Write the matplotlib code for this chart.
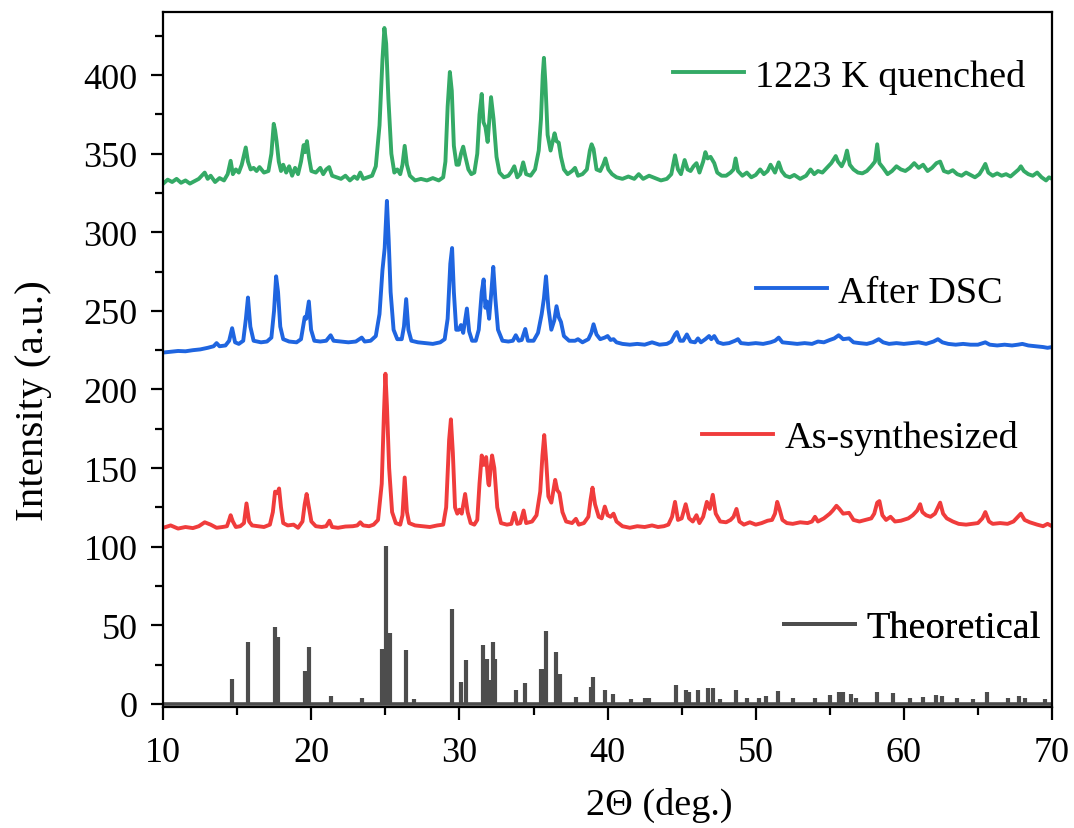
import matplotlib
matplotlib.use('Agg')
import matplotlib.pyplot as plt
from matplotlib.lines import Line2D
from matplotlib.ticker import MultipleLocator

# XRD patterns (2-theta in deg, intensity in a.u., already offset)
quenched_pts = [
    (10.0, 331), (10.3, 333.5), (10.6, 332), (10.9, 334), (11.2, 331.5), (11.5, 333), (11.8, 331),
    (12.1, 332.5), (12.4, 334), (12.6, 336), (12.8, 338), (13.0, 334), (13.2, 336), (13.5, 332),
    (13.8, 334.5), (14.1, 333), (14.35, 337), (14.55, 345.5), (14.7, 337), (14.9, 340), (15.1, 338),
    (15.3, 343), (15.45, 349), (15.57, 354), (15.72, 345), (15.9, 340), (16.1, 341), (16.3, 339),
    (16.5, 341.5), (16.8, 338), (17.1, 339), (17.3, 350), (17.46, 369), (17.55, 365), (17.65, 358),
    (17.8, 345), (17.95, 339), (18.1, 343), (18.3, 338), (18.5, 342), (18.7, 336), (18.9, 341),
    (19.1, 337), (19.3, 345), (19.48, 355.5), (19.58, 351), (19.7, 358), (19.85, 347), (20.0, 339),
    (20.3, 338), (20.6, 341), (20.8, 337), (21.0, 340), (21.2, 341.5), (21.4, 336), (21.7, 335),
    (22.0, 334), (22.3, 336), (22.6, 333), (22.9, 335.5), (23.1, 334), (23.3, 338), (23.5, 334),
    (23.8, 335), (24.1, 336), (24.35, 342), (24.6, 368), (24.8, 410), (24.93, 430), (25.05, 420),
    (25.2, 385), (25.4, 350), (25.6, 338), (25.8, 340), (26.0, 337), (26.15, 343), (26.3, 355),
    (26.45, 343), (26.65, 336), (27.0, 333), (27.4, 334), (27.8, 333), (28.2, 334.5), (28.6, 333),
    (28.9, 335), (29.05, 345), (29.2, 380), (29.35, 402), (29.48, 390), (29.62, 355), (29.8, 343),
    (29.95, 343), (30.1, 350), (30.25, 354.5), (30.4, 348), (30.6, 340), (30.8, 337), (31.0, 338),
    (31.2, 350), (31.35, 375), (31.5, 388), (31.62, 370), (31.75, 367), (31.9, 357.5), (32.0, 370),
    (32.13, 386), (32.3, 372), (32.5, 348), (32.7, 338), (33.0, 335), (33.3, 336), (33.5, 338.5),
    (33.7, 342), (33.9, 335), (34.1, 337), (34.3, 344.5), (34.5, 337), (34.8, 336), (35.1, 340),
    (35.35, 352), (35.5, 372), (35.62, 400), (35.7, 411), (35.8, 395), (35.95, 362), (36.15, 352),
    (36.3, 358), (36.42, 363), (36.55, 358), (36.7, 357), (36.85, 348), (37.05, 340), (37.3, 337),
    (37.6, 339), (37.8, 341), (38.0, 336), (38.3, 337), (38.6, 340), (38.8, 352), (38.92, 356),
    (39.05, 353), (39.25, 340), (39.5, 339), (39.7, 343), (39.85, 347), (40.05, 340), (40.3, 337),
    (40.6, 335), (41.0, 334), (41.4, 335.5), (41.8, 334), (42.1, 337), (42.4, 334), (42.8, 336),
    (43.2, 334.5), (43.6, 333), (44.0, 334), (44.3, 337), (44.55, 349), (44.75, 340), (44.95, 337),
    (45.2, 346), (45.4, 340), (45.6, 339), (45.8, 342), (46.0, 344), (46.2, 338), (46.45, 345),
    (46.6, 351), (46.75, 347), (46.95, 348), (47.2, 344), (47.4, 338), (47.7, 336), (48.0, 336),
    (48.3, 338), (48.5, 340), (48.64, 347), (48.8, 339), (49.1, 336), (49.4, 338), (49.7, 335),
    (50.0, 336.5), (50.3, 340), (50.55, 337), (50.8, 339), (51.0, 343), (51.3, 338), (51.55, 344.5),
    (51.75, 339), (52.0, 336), (52.3, 335), (52.6, 336.5), (53.0, 334), (53.4, 336), (53.7, 340),
    (53.95, 337), (54.2, 339), (54.5, 338), (54.8, 341), (55.1, 344), (55.4, 348.5), (55.55, 345),
    (55.8, 342), (56.0, 346), (56.16, 352), (56.35, 343), (56.6, 340), (56.9, 338), (57.2, 337.5),
    (57.5, 339), (57.8, 342), (58.05, 345), (58.2, 356), (58.35, 344), (58.6, 341), (58.9, 337),
    (59.2, 339), (59.5, 342), (59.8, 340), (60.1, 339), (60.4, 341), (60.7, 344), (61.0, 341),
    (61.3, 343), (61.6, 339), (61.9, 341), (62.2, 344), (62.45, 345), (62.7, 339), (63.0, 338),
    (63.3, 339.5), (63.6, 337), (63.9, 336), (64.2, 338), (64.5, 336.5), (64.8, 335), (65.1, 337),
    (65.3, 340), (65.5, 343.5), (65.7, 338), (66.0, 336), (66.3, 337.5), (66.6, 336), (66.9, 337),
    (67.2, 335.5), (67.5, 338), (67.75, 340), (67.9, 342), (68.1, 339), (68.4, 337), (68.7, 336),
    (69.0, 338), (69.3, 335), (69.6, 333), (69.8, 335), (70.0, 334),
]

dsc_pts = [
    (10.0, 223.5), (10.5, 224), (11.0, 224.5), (11.5, 224.3), (12.0, 225), (12.5, 225.5), (13.0, 226.5),
    (13.4, 227.5), (13.6, 229.5), (13.8, 227.5), (14.2, 228), (14.45, 231), (14.65, 239), (14.85, 230),
    (15.1, 229), (15.4, 231), (15.58, 245), (15.72, 258.5), (15.88, 240), (16.1, 231), (16.6, 230),
    (17.0, 230.5), (17.3, 233), (17.48, 250), (17.62, 272), (17.75, 262), (17.9, 240), (18.1, 232),
    (18.5, 230.5), (19.0, 230), (19.3, 232), (19.55, 246), (19.65, 245), (19.83, 256), (19.98, 238),
    (20.2, 231), (20.6, 230.5), (21.0, 231), (21.3, 234.5), (21.5, 231), (22.0, 230.5), (22.5, 230),
    (23.0, 230.5), (23.4, 233), (23.6, 230.5), (24.0, 231), (24.35, 234), (24.6, 248), (24.8, 276),
    (24.95, 290), (25.1, 320), (25.22, 295), (25.35, 262), (25.55, 238), (25.8, 232), (26.1, 232),
    (26.25, 240), (26.4, 257.5), (26.55, 238), (26.75, 231), (27.2, 230), (27.7, 229.5), (28.2, 229),
    (28.7, 230), (29.0, 232), (29.2, 245), (29.38, 280), (29.5, 290), (29.62, 262), (29.78, 238),
    (29.95, 238), (30.1, 241), (30.25, 236), (30.5, 251.5), (30.65, 237), (30.85, 231), (31.1, 231),
    (31.3, 238), (31.5, 262), (31.63, 270), (31.75, 252), (31.85, 256), (32.0, 245), (32.15, 262),
    (32.28, 278), (32.42, 258), (32.6, 238), (32.9, 231), (33.3, 230.5), (33.6, 231), (33.8, 234.5),
    (34.0, 231), (34.2, 231.5), (34.44, 238.5), (34.62, 231), (35.0, 231), (35.3, 236), (35.55, 248),
    (35.7, 258), (35.84, 272), (36.0, 252), (36.2, 238), (36.4, 244), (36.55, 253), (36.7, 246),
    (36.85, 243), (37.05, 234), (37.4, 231), (37.8, 231), (38.0, 232), (38.3, 230), (38.7, 232),
    (38.9, 236), (39.05, 241.5), (39.25, 235), (39.5, 232), (39.8, 233), (40.0, 234), (40.2, 231.5),
    (40.4, 232), (40.6, 230), (41.0, 229), (41.5, 228.5), (42.0, 229), (42.5, 228.5), (43.0, 230),
    (43.5, 228.5), (44.0, 229), (44.3, 230.5), (44.55, 235), (44.68, 236.5), (44.9, 231), (45.1, 231),
    (45.35, 235), (45.6, 230.5), (45.9, 230), (46.1, 232.5), (46.3, 230), (46.6, 232), (46.85, 234),
    (47.0, 232), (47.2, 234), (47.45, 230), (47.8, 229), (48.2, 229.5), (48.6, 231), (48.8, 232),
    (49.0, 229.5), (49.5, 229), (50.0, 229.5), (50.5, 229), (51.0, 230), (51.3, 231), (51.55, 233),
    (51.8, 230), (52.3, 229.5), (52.8, 229), (53.3, 229.5), (53.8, 229), (54.2, 230.5), (54.6, 230),
    (55.0, 231.5), (55.3, 232.5), (55.6, 234.5), (55.9, 232), (56.3, 232.5), (56.6, 230), (57.0, 229.5),
    (57.5, 229), (57.9, 230), (58.3, 232), (58.6, 230), (59.0, 229), (59.5, 229.5), (60.0, 229),
    (60.5, 229.5), (61.0, 230), (61.5, 229), (62.0, 230.5), (62.3, 232), (62.6, 230), (63.0, 229),
    (63.5, 228.5), (64.0, 229), (64.5, 228.5), (65.0, 228.5), (65.5, 230), (65.8, 228.5), (66.3, 228),
    (66.8, 228.5), (67.3, 228), (67.7, 228.5), (68.0, 229), (68.4, 228), (68.9, 227.5), (69.4, 227),
    (69.7, 226.5), (70.0, 227),
]

synth_pts = [
    (10.0, 112), (10.5, 113.5), (11.0, 111.5), (11.5, 112.5), (12.0, 111.8), (12.4, 113), (12.8, 115.5),
    (13.2, 114), (13.6, 112), (14.0, 112.5), (14.3, 113), (14.45, 117), (14.55, 120), (14.7, 116),
    (14.9, 112.5), (15.2, 113), (15.45, 115), (15.62, 127.5), (15.8, 116), (16.0, 113.5), (16.4, 113),
    (16.8, 112.5), (17.2, 114), (17.4, 122), (17.55, 135), (17.7, 134), (17.82, 137), (17.95, 125),
    (18.1, 115), (18.4, 113.5), (18.8, 114), (19.1, 112), (19.4, 116), (19.55, 127), (19.68, 133.5),
    (19.82, 126), (20.0, 116), (20.3, 113), (20.7, 112.5), (21.0, 113), (21.22, 116.5), (21.4, 112.5),
    (21.8, 112), (22.3, 112.8), (22.8, 113), (23.1, 113.5), (23.3, 115.5), (23.5, 113.5), (23.9, 113),
    (24.2, 114), (24.5, 117), (24.75, 140), (24.9, 185), (25.0, 210), (25.1, 190), (25.25, 150),
    (25.45, 122), (25.7, 115), (26.0, 114), (26.15, 120), (26.3, 144), (26.45, 122), (26.6, 115),
    (27.0, 113.5), (27.5, 113), (28.0, 112.5), (28.5, 113.5), (28.9, 114), (29.1, 125), (29.3, 168),
    (29.42, 181), (29.55, 160), (29.7, 125), (29.85, 121), (30.0, 123.5), (30.15, 121), (30.38, 133.5),
    (30.55, 122), (30.75, 115), (31.0, 114), (31.2, 117), (31.35, 140), (31.5, 158), (31.65, 152),
    (31.8, 157), (31.95, 140), (32.0, 139), (32.1, 150), (32.2, 158), (32.35, 150), (32.55, 125),
    (32.8, 115), (33.2, 114), (33.5, 114.5), (33.7, 121.5), (33.9, 114.5), (34.1, 115), (34.33, 123),
    (34.5, 115), (34.9, 116), (35.2, 120), (35.45, 135), (35.6, 158), (35.72, 171), (35.85, 155),
    (36.0, 132), (36.2, 128), (36.46, 142.5), (36.6, 136), (36.75, 134), (36.95, 122), (37.2, 116),
    (37.6, 115), (37.86, 117.7), (38.05, 114), (38.4, 115), (38.7, 119), (38.85, 130), (38.98, 137.5),
    (39.15, 127), (39.4, 119), (39.6, 118), (39.81, 125.5), (40.0, 120), (40.2, 119), (40.4, 121),
    (40.6, 116), (41.0, 113), (41.5, 112), (42.0, 113), (42.5, 112.5), (43.0, 113.5), (43.4, 112.5),
    (43.8, 113), (44.1, 114), (44.35, 119), (44.55, 128.5), (44.75, 117), (45.0, 118), (45.27, 127),
    (45.5, 118), (45.75, 116), (46.0, 120), (46.2, 115), (46.45, 119), (46.7, 128.5), (46.9, 124),
    (47.1, 133), (47.3, 121), (47.6, 116), (48.0, 115.5), (48.3, 117), (48.5, 119), (48.7, 124),
    (48.9, 116), (49.2, 114), (49.6, 115.5), (50.0, 114), (50.4, 115), (50.8, 116.5), (51.1, 117),
    (51.3, 121), (51.45, 128.5), (51.6, 124), (51.8, 117), (52.1, 115), (52.5, 114.5), (53.0, 115.5),
    (53.5, 115), (53.8, 116), (54.0, 119), (54.2, 116), (54.6, 118), (55.0, 121), (55.2, 123),
    (55.45, 126), (55.65, 124), (55.9, 121), (56.3, 121.5), (56.6, 117), (57.0, 116), (57.4, 117),
    (57.8, 118), (58.0, 121), (58.2, 128), (58.35, 129), (58.55, 120), (58.8, 117), (59.1, 119),
    (59.4, 116), (59.8, 116.5), (60.3, 118), (60.6, 120), (60.9, 123), (61.1, 127), (61.25, 122),
    (61.5, 120), (61.8, 119), (62.1, 121), (62.45, 128), (62.65, 121), (62.9, 118), (63.3, 116),
    (63.7, 114.5), (64.2, 114), (64.6, 114.5), (65.0, 115), (65.3, 118), (65.5, 122), (65.75, 116),
    (66.0, 114.5), (66.5, 115), (67.0, 114.5), (67.4, 116), (67.7, 119), (67.9, 121), (68.15, 117),
    (68.5, 115.5), (69.0, 114), (69.4, 113), (69.7, 114.5), (70.0, 113),
]

# simulated (theoretical) reflections: position and relative intensity
theo_pos = [14.65, 15.69, 17.57, 17.75, 19.55, 19.82, 21.3, 23.4, 24.78, 25.07, 25.28, 26.4, 26.9,
            29.5, 30.1, 30.44, 31.61, 31.85, 32.0, 32.24, 32.4, 33.81, 34.42, 35.5, 35.7, 35.84,
            36.51, 36.78, 37.85, 38.9, 39.02, 39.8, 40.35, 41.6, 42.5, 42.8, 44.64, 45.3, 45.5,
            46.1, 46.78, 47.1, 47.6, 48.7, 49.4, 50.2, 50.7, 51.5, 52.5, 54.0, 55.0, 55.6, 55.9,
            56.4, 56.8, 58.2, 59.3, 60.4, 61.3, 62.2, 62.6, 63.6, 64.7, 65.6, 67.0, 67.8, 68.2, 69.5]
theo_int = [15.9, 39.2, 48.8, 42.4, 20.6, 36.0, 4.9, 3.6, 35.0, 100.7, 45.0, 34.0, 3.0,
            60.4, 14.2, 27.6, 37.5, 28.6, 15.0, 39.2, 28.6, 8.5, 13.4, 22.3, 22.3, 46.6,
            32.9, 19.0, 4.4, 11.0, 17.0, 9.0, 6.0, 3.0, 3.5, 4.0, 12.0, 8.5, 7.5,
            8.5, 10.0, 10.0, 3.0, 9.0, 4.0, 3.5, 5.0, 8.0, 4.0, 4.0, 5.5, 7.5, 7.5,
            6.5, 4.0, 7.5, 7.0, 3.5, 4.5, 5.5, 5.0, 3.5, 3.0, 7.5, 3.5, 5.0, 4.0, 3.0]

labels = ['1223 K quenched', 'After DSC', 'As-synthesized', 'Theoretical']
colors = ['#34aa66', '#1f65e0', '#f03c3c', '#4d4d4d']

plt.rcParams['font.family'] = ['Liberation Serif', 'DejaVu Serif']
plt.rcParams['font.size'] = 26

fig = plt.figure(figsize=(10.74, 8.29), dpi=100)
ax = fig.add_axes([0.152, 0.146, 0.8275, 0.838])

# experimental patterns
for pts, col in zip([quenched_pts, dsc_pts, synth_pts], colors[:3]):
    xs, ys = zip(*pts)
    ax.plot(xs, ys, color=col, lw=2.8, solid_joinstyle='round')

# theoretical pattern: zero line plus reflections
ax.axhline(0, color=colors[3], lw=2.6)
ax.vlines(theo_pos, 0, theo_int, color=colors[3], lw=3.0)

ax.set_xlim(10, 70)
ax.set_ylim(-2, 440)
ax.xaxis.set_major_locator(MultipleLocator(10))
ax.xaxis.set_minor_locator(MultipleLocator(5))
ax.yaxis.set_major_locator(MultipleLocator(50))
ax.yaxis.set_minor_locator(MultipleLocator(25))
ax.tick_params(which='major', direction='out', length=9, width=1.6, labelsize=26)
ax.tick_params(which='minor', direction='out', length=5.5, width=1.6)
ax.tick_params(axis='x', which='major', pad=12)
ax.tick_params(axis='y', which='major', pad=9.5)
for sp in ax.spines.values():
    sp.set_linewidth(1.6)

ax.set_xlabel('2\u0398 (deg.)', fontsize=27.5)
ax.set_ylabel('Intensity (a.u.)', fontsize=29.5)
ax.xaxis.set_label_coords(0.558, -0.115)
ax.yaxis.set_label_coords(-0.125, 0.443)

# one legend entry beside each curve
leg_pos = [(0.970, 0.908), (0.945, 0.597), (0.962, 0.388), (0.987, 0.114)]
for lab, col, (lx, ly) in zip(labels, colors, leg_pos):
    h = Line2D([], [], color=col, lw=2.8)
    leg = ax.legend(handles=[h], labels=[lab], loc='center right', bbox_to_anchor=(lx, ly),
                    frameon=False, borderpad=0, borderaxespad=0, handlelength=1.85,
                    handletextpad=0.3, fontsize=27.5)
    ax.add_artist(leg)

fig.savefig('out.png', dpi=100)
